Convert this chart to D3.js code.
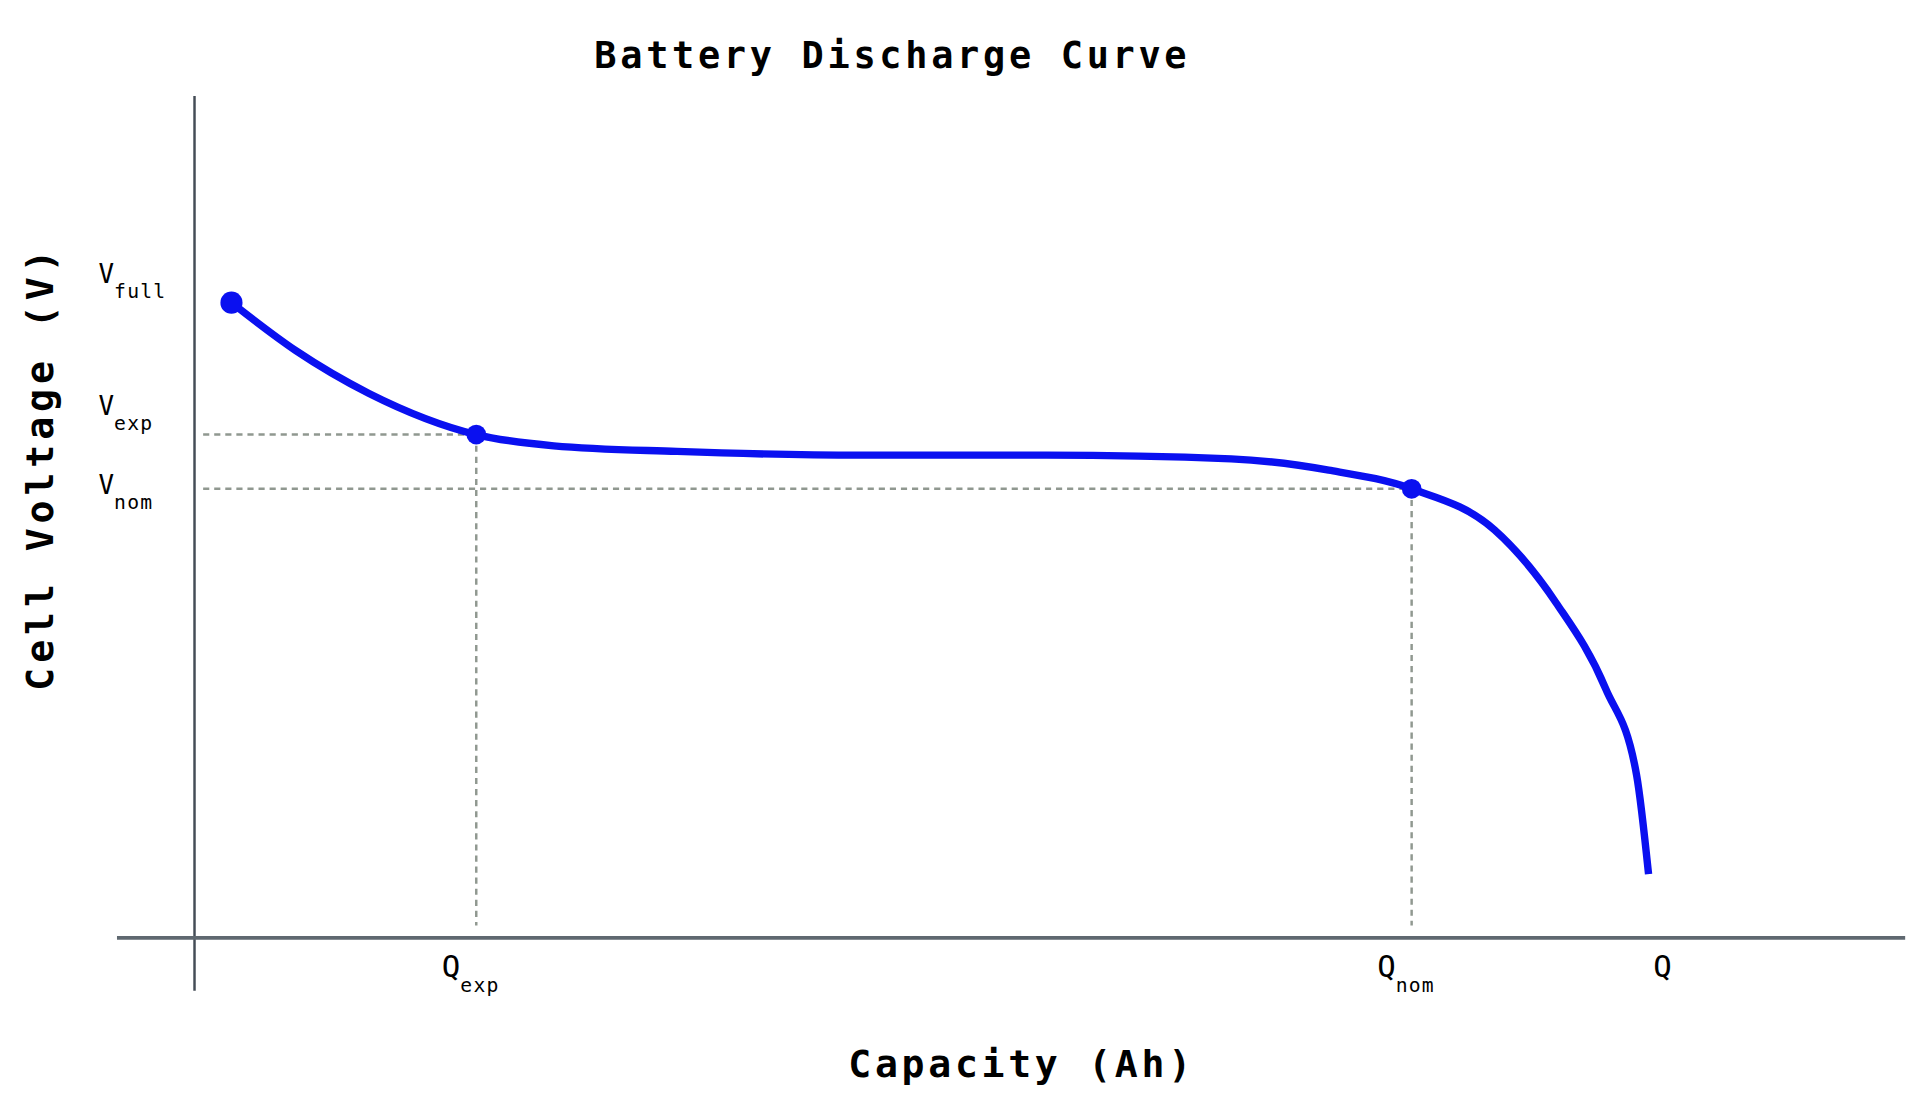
<!DOCTYPE html>
<html>
<head>
<meta charset="utf-8">
<script src="https://cdn.jsdelivr.net/npm/d3@7"></script>
<style>
  body { margin: 0; background: #fff; }
  text { font-family: "DejaVu Sans Mono", monospace; }
</style>
</head>
<body>
<div id="canvas"></div>
<script>
// Discharge curve, capacity (Ah) vs voltage (V)
var capacity = [0.216, 0.59, 1.02, 1.647, 2.10, 2.82, 3.90, 4.98, 6.06, 6.63, 7.115, 7.60, 7.96, 8.25, 8.43, 8.50];
var voltage  = [3.395, 3.14, 2.91, 2.69, 2.63, 2.60, 2.58, 2.58, 2.56, 2.50, 2.40, 2.18, 1.79, 1.33, 0.87, 0.34];

// Key points
var keyNames = ["full", "exp", "nom"];
var keyQ = [0.216, 1.647, 7.115];
var keyV = [3.395, 2.69, 2.40];
var qEnd = 8.6;

var w = 1560, h = 893;
var svg = d3.select("#canvas").append("svg")
    .attr("width", 1920).attr("height", 1099)
    .attr("viewBox", `0 0 ${w} ${h}`);

var x = d3.scaleLinear().domain([0, 10]).range([158, 1548]);
var y = d3.scaleLinear().domain([0, 4.5]).range([762, 78]);

// Title and axis labels
svg.append("text").attr("x", 725).attr("y", 55).attr("text-anchor", "middle")
    .style("font-size", "30px").style("font-weight", "bold").style("letter-spacing", "3px")
    .text("Battery Discharge Curve");
svg.append("text").attr("x", 830).attr("y", 875).attr("text-anchor", "middle")
    .style("font-size", "31px").style("font-weight", "bold").style("letter-spacing", "3px")
    .text("Capacity (Ah)");
svg.append("text").attr("transform", "translate(43,380) rotate(-90)").attr("text-anchor", "middle")
    .style("font-size", "31px").style("font-weight", "bold").style("letter-spacing", "4px")
    .text("Cell Voltage (V)");

// Axes
svg.append("line").attr("x1", 158).attr("x2", 158).attr("y1", 78).attr("y2", 805)
    .attr("stroke", "#444c56").attr("stroke-width", 2);
svg.append("line").attr("x1", 95).attr("x2", 1548).attr("y1", 762).attr("y2", 762)
    .attr("stroke", "#5f6870").attr("stroke-width", 3);

// Dashed guide lines
function guide(x1, y1, x2, y2) {
    svg.append("line").attr("x1", x1).attr("y1", y1).attr("x2", x2).attr("y2", y2)
        .attr("stroke", "#909890").attr("stroke-width", 2).attr("stroke-dasharray", "5,4");
}
for (var i = 1; i < 3; i++) {
    guide(165, y(keyV[i]), x(keyQ[i]), y(keyV[i]));
    guide(x(keyQ[i]), y(keyV[i]), x(keyQ[i]), 752);
}

// Curve
var pts = capacity.map((c, i) => [x(c), y(voltage[i])]);
svg.append("path").attr("d", d3.line().curve(d3.curveMonotoneX)(pts))
    .attr("fill", "none").attr("stroke", "#0a10f0").attr("stroke-width", 6);
svg.selectAll("circle.key").data(keyQ).join("circle")
    .attr("cx", d => x(d)).attr("cy", (d, i) => y(keyV[i]))
    .attr("r", (d, i) => i === 0 ? 9 : 8).attr("fill", "#0a10f0");

// V labels
var vOff = [-16, -16, 4];
var vLab = svg.selectAll("text.vl").data(keyNames).join("text")
    .attr("x", 80).attr("y", (d, i) => y(keyV[i]) + vOff[i])
    .style("font-size", "21px");
vLab.append("tspan").text("V");
vLab.append("tspan").attr("dy", 12).style("font-size", "16px").style("letter-spacing", "1px").text(d => d);

// Q labels
var qNames = ["exp", "nom", ""];
var qPos = [keyQ[1], keyQ[2], qEnd];
var qLab = svg.selectAll("text.ql").data(qNames).join("text")
    .attr("x", (d, i) => x(qPos[i]) - (d ? 28 : 10)).attr("y", 794)
    .style("font-size", "25px");
qLab.append("tspan").text("Q");
qLab.append("tspan").attr("dy", 12).style("font-size", "16px").style("letter-spacing", "1px").text(d => d);
</script>
</body>
</html>
